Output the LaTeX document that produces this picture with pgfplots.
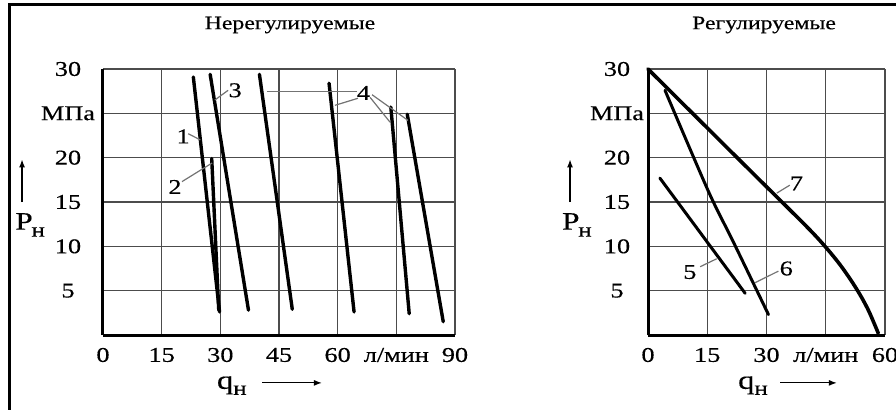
\documentclass[border=0pt]{standalone}
\usepackage{pgfplots}
\pgfplotsset{compat=1.18}
\usetikzlibrary{arrows.meta}
\usepackage{fontspec}
\setmainfont{Liberation Serif}[FakeStretch=1.25, UprightFeatures={FakeBold=0.4}]
\begin{document}
\begin{tikzpicture}
\pgfplotsset{
  base/.style={
    scale only axis, height=133pt,
    ymin=0, ymax=30,
    ytick={5,10,...,30}, yticklabels={5,10,15,20,МПа,30},
    axis lines*=left,
    axis line style={line width=1.5pt, black},
    grid=major,
    grid style={line width=0.6pt, black!70},
    major tick length=0pt,
    tick label style={font=\fontsize{10.5}{12}\selectfont, black},
    xticklabel style={anchor=center, yshift=-10pt},
    clip=false,
    /pgf/number format/assume math mode=true,
    title style={font=\fontsize{9.5}{11}\selectfont, at={(0.5,1)}, anchor=center, yshift=16pt},
  },
}
\tikzset{
  curve/.style={black, line width=1.7pt, line cap=round},
  lead/.style={black!55, line width=0.6pt},
  num/.style={font=\fontsize{10.5}{12}\selectfont, inner sep=0pt},
}
\draw[line width=1.5pt] (4.5pt,-2pt) -- (4.5pt,202.2pt) -- (450pt,202.2pt);

% ---------------- left: unregulated ----------------
\begin{axis}[base,
  at={(51.5pt,37pt)}, anchor=south west, width=176pt,
  xmin=0, xmax=90,
  xtick={0,15,...,90}, xticklabels={0,15,30,45,60,л/мин,90},
  yticklabel style={anchor=center, xshift=-17.5pt},
  title={Нерегулируемые}, title style={xshift=5.5pt},
]
\addplot[curve] coordinates {(23.1,29.1) (29.8,2.6)};
\addplot[curve] coordinates {(27.8,19.9) (29.6,2.8)};
\addplot[curve] coordinates {(27.4,29.4) (37.2,2.8)};
\addplot[curve] coordinates {(40.0,29.4) (48.4,2.9)};
\addplot[curve] coordinates {(57.8,28.4) (64.2,2.6)};
\addplot[curve] coordinates {(73.6,25.7) (78.3,2.4)};
\addplot[curve] coordinates {(77.8,24.9) (87.0,1.5)};
% leaders and numbers
\draw[lead] (axis cs:21.8,22.7) -- (axis cs:24.9,22.0);
\node[num] at (axis cs:20.5,22.4) {1};
\draw[lead] (axis cs:20.2,17.3) -- (axis cs:27.9,19.4);
\node[num] at (axis cs:18.4,16.7) {2};
\draw[lead] (axis cs:32.0,27.6) -- (axis cs:28.6,26.5);
\node[num] at (axis cs:33.8,27.6) {3};
\draw[lead] (axis cs:64.9,27.5) -- (axis cs:41.9,27.5);
\draw[lead] (axis cs:65.2,26.7) -- (axis cs:59.3,25.9);
\draw[lead] (axis cs:68.3,26.8) -- (axis cs:73.4,24.0);
\draw[lead] (axis cs:68.8,27.1) -- (axis cs:78.0,24.2);
\node[num] at (axis cs:66.6,27.3) {4};
% axis labels
\draw[-{Latex[length=4pt,width=3pt]}, line width=0.6pt] (rel axis cs:-0.230,0.50) -- (rel axis cs:-0.230,0.66);
\node[inner sep=0pt] at (rel axis cs:-0.207,0.414) {\fontsize{12.5}{14}\selectfont P\kern-0.6pt\raisebox{-3.5pt}{\fontsize{10}{12}\selectfont н}};
\node[inner sep=0pt] at (rel axis cs:0.366,-0.19) {\fontsize{13}{15}\selectfont q\raisebox{-3pt}{\fontsize{10}{12}\selectfont н}};
\draw[-{Latex[length=4pt,width=3pt]}, line width=0.6pt] (rel axis cs:0.452,-0.18) -- (rel axis cs:0.622,-0.18);
\end{axis}

% ---------------- right: regulated ----------------
\begin{axis}[base,
  at={(324pt,37pt)}, anchor=south west, width=118.5pt,
  xmin=0, xmax=60,
  xtick={0,15,...,60}, xticklabels={0,15,30,л/мин,60},
  yticklabel style={anchor=center, xshift=-15.5pt},
  title={Регулируемые}, title style={xshift=-1.25pt},
]
\addplot[curve, line width=1.5pt] coordinates {(3.0,17.7) (24.6,4.7)};
\addplot[curve, line width=1.5pt, smooth] coordinates {(4.3,27.6) (15.3,16.2) (21.6,10.5) (30.5,2.3)};
\addplot[curve, line width=1.8pt, smooth, tension=0.5] coordinates {(0,30) (23.7,19.5) (40,12.3) (45,9.9) (48.5,8.0) (51.5,6.1) (54,4.3) (56,2.6) (58.3,0.2)};
\draw[lead] (axis cs:13.2,7.7) -- (axis cs:17.4,8.6);
\node[num] at (axis cs:10.6,7.1) {5};
\draw[lead] (axis cs:33.0,7.2) -- (axis cs:27.1,5.9);
\node[num] at (axis cs:35.0,7.5) {6};
\draw[lead] (axis cs:35.9,16.9) -- (axis cs:32.6,16.0);
\node[num] at (axis cs:37.6,17.1) {7};
\draw[-{Latex[length=4pt,width=3pt]}, line width=0.6pt] (rel axis cs:-0.329,0.50) -- (rel axis cs:-0.329,0.66);
\node[inner sep=0pt] at (rel axis cs:-0.300,0.414) {\fontsize{12.5}{14}\selectfont P\kern-0.6pt\raisebox{-3.5pt}{\fontsize{10}{12}\selectfont н}};
\node[inner sep=0pt] at (rel axis cs:0.443,-0.19) {\fontsize{13}{15}\selectfont q\raisebox{-3pt}{\fontsize{10}{12}\selectfont н}};
\draw[-{Latex[length=4pt,width=3pt]}, line width=0.6pt] (rel axis cs:0.557,-0.18) -- (rel axis cs:0.797,-0.18);
\end{axis}

\pgfresetboundingbox
\useasboundingbox (0,0) rectangle (448pt,204.5pt);
\end{tikzpicture}
\end{document}
